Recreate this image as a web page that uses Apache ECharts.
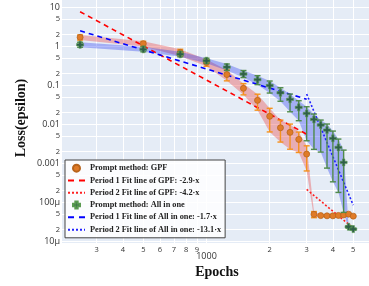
<!DOCTYPE html>
<html><head><meta charset="utf-8">
<script src="https://cdn.jsdelivr.net/npm/echarts@6/dist/echarts.min.js"></script>
<style>html,body{margin:0;padding:0;background:#fff}#c{width:369px;height:286px}</style>
</head><body><div id="c"></div>
<script>
// ---- data ----
const epochs = [250,500,750,1000,1250,1500,1750,2000,2250,2500,2750,3000,3250,3500,3750,4000,4250,4500,4750,5000];
const gpfLoss = [1.70,1.17,0.70,0.384,0.189,0.0838,0.0412,0.0161,0.00818,0.00624,0.00412,0.00173,4.95e-5,4.59e-5,4.53e-5,4.53e-5,4.64e-5,4.78e-5,5.01e-5,4.45e-5];
const gpfErr = [0.255,0.176,0.14,0.077,0.0586,0.0268,0.0181,0.0097,0.00466,0.00393,0.00222,0.00109,8.9e-6,2.3e-6,2.3e-6,2.3e-6,2.3e-6,2.4e-6,2.5e-6,2.2e-6];
const aioLoss = [1.10,0.838,0.624,0.428,0.294,0.195,0.140,0.0988,0.0646,0.0438,0.0273,0.0191,0.0134,0.0096,0.00714,0.00438,0.00257,0.00106,2.37e-5,2.07e-5];
const aioUpper = [1.27,0.971,0.723,0.495,0.352,0.240,0.177,0.129,0.0868,0.0598,0.0403,0.0283,0.0184,0.0129,0.0102,0.00673,0.0042,0.00219,2.54e-5,2.19e-5];
const aioLower = [0.948,0.723,0.538,0.369,0.240,0.158,0.104,0.0635,0.0391,0.0210,0.0124,0.0038,0.00229,0.00195,0.000757,0.000337,0.00018,5.54e-5,2.19e-5,1.95e-5];
const fitGpfP1X = [250,3000], fitGpfP1Y = [7.7,0.0056];
const fitGpfP2X = [3000,5000], fitGpfP2Y = [2.15e-4,2.2e-5];
const fitAioP1X = [250,3000], fitAioP1Y = [2.5,0.044];
const fitAioP2X = [3000,5000], fitAioP2Y = [0.06,8.5e-5];
const seriesNames = ['Prompt method: GPF','Period 1 Fit line of GPF: -2.9·x','Period 2 Fit line of GPF: -4.2·x','Prompt method: All in one','Period 1 Fit line of All in one: -1.7·x','Period 2 Fit line of All in one: -13.1·x'];
const yTicks = [10,5,2,1,0.5,0.2,0.1,0.05,0.02,0.01,0.005,0.002,0.001,5e-4,2e-4,1e-4,5e-5,2e-5,1e-5];
const yTickLabels = ['10','5','2','1','5','2','0.1','5','2','0.01','5','2','0.001','5','2','100μ','5','2','10μ'];
const yMajor = [1,0,0,1,0,0,1,0,0,1,0,0,1,0,0,1,0,0,1];
const xTicks = [300,400,500,600,700,800,900,1000,2000,3000,4000,5000];
const xTickLabels = ['3','4','5','6','7','8','9','1000','2','3','4','5'];
const xMajor = [0,0,0,0,0,0,0,1,0,0,0,0];

// ---- chart ----
const L = Math.log10;
const chart = echarts.init(document.getElementById('c'), null, {renderer:'canvas'});
const yT = yTicks.map(L), xT = xTicks.map(L);
function findIdx(arr, v){ return arr.findIndex(t => Math.abs(t - v) < 1e-6); }
const plus = 'path://M3.3,0H6.7V3.3H10V6.7H6.7V10H3.3V6.7H0V3.3H3.3Z';

function band(upper, lower, color){
  return {type:'custom', silent:true, z:1, data:[[3,0]],
    renderItem:(params, api)=>{
      const pts=[];
      for(let i=0;i<epochs.length;i++) pts.push(api.coord([L(epochs[i]), L(upper[i])]));
      for(let i=epochs.length-1;i>=0;i--) pts.push(api.coord([L(epochs[i]), L(lower[i])]));
      return {type:'polygon', shape:{points:pts}, style:{fill:color}};
    }};
}
function errBars(lo, hi, color, z){
  return {type:'custom', silent:true, z:z,
    data: epochs.map((e,i)=>[L(e), L(lo[i]), L(hi[i])]),
    encode:{x:0, y:[1,2]},
    renderItem:(params, api)=>{
      const x=api.value(0);
      const p1=api.coord([x, api.value(1)]), p2=api.coord([x, api.value(2)]);
      const w=3, st={stroke:color, lineWidth:1.4};
      return {type:'group', children:[
        {type:'line', shape:{x1:p1[0],y1:p1[1],x2:p2[0],y2:p2[1]}, style:st},
        {type:'line', shape:{x1:p1[0]-w,y1:p1[1],x2:p1[0]+w,y2:p1[1]}, style:st},
        {type:'line', shape:{x1:p2[0]-w,y1:p2[1],x2:p2[0]+w,y2:p2[1]}, style:st}
      ]};
    }};
}
function fitLine(name, xs, ys, color, dash, w){
  return {name, type:'line', symbol:'none', z:3, silent:true,
    data: xs.map((x,i)=>[L(x), L(ys[i])]),
    lineStyle:{color, type:dash, width:w}, itemStyle:{color}};
}
const gpfLo = gpfLoss.map((v,i)=>v-gpfErr[i]);
const gpfHi = gpfLoss.map((v,i)=>v+gpfErr[i]);
const hideSym = {color:'rgba(0,0,0,0)', borderWidth:0, opacity:0};

const option = {
  animation:false,
  backgroundColor:'#fff',
  grid:{left:62, right:0, top:0, bottom:43, show:true, backgroundColor:'#E5ECF6', borderWidth:0},
  xAxis:{type:'value', min:L(205), max:3.774,
    axisLine:{show:false}, axisTick:{show:false, customValues:xT},
    splitLine:{show:true, lineStyle:{color:'#fff', width:1}},
    axisLabel:{customValues:xT, margin:3, color:'#333', fontFamily:'Open Sans',
      formatter:(v)=>{const i=findIdx(xT,v); if(i<0) return ''; return xMajor[i]?'{b|'+xTickLabels[i]+'}':'{s|'+xTickLabels[i]+'}';},
      rich:{s:{fontSize:7.5, color:'#333', fontFamily:'Open Sans'}, b:{fontSize:9, color:'#333', fontFamily:'Open Sans', padding:[6,0,0,0]}}}
  },
  yAxis:{type:'value', min:-5.04, max:1.187,
    axisLine:{show:false}, axisTick:{show:false, customValues:yT},
    splitLine:{show:true, lineStyle:{color:'#fff', width:1}},
    axisLabel:{customValues:yT, margin:2, color:'#333', fontFamily:'Open Sans',
      formatter:(v)=>{const i=findIdx(yT,v); if(i<0) return ''; return yMajor[i]?'{b|'+yTickLabels[i]+'}':'{s|'+yTickLabels[i]+'}';},
      rich:{s:{fontSize:7.5, color:'#333', fontFamily:'Open Sans'}, b:{fontSize:9, color:'#333', fontFamily:'Open Sans'}}}
  },
  legend:{orient:'vertical', left:65, top:160, itemWidth:17, itemHeight:7, itemGap:2,
    padding:[3,4,3,2], borderColor:'#444', borderWidth:1, backgroundColor:'rgba(255,255,255,0.85)',
    textStyle:{fontFamily:'Liberation Serif', fontWeight:'bold', fontSize:8.3, lineHeight:10.3, color:'#222'},
    data:[
      {name:seriesNames[0]},
      {name:seriesNames[1], itemStyle:hideSym, lineStyle:{type:[6,5]}},
      {name:seriesNames[2], itemStyle:hideSym},
      {name:seriesNames[3]},
      {name:seriesNames[4], itemStyle:hideSym, lineStyle:{type:[6,5]}},
      {name:seriesNames[5], itemStyle:hideSym}
    ]},
  graphic:[
    {type:'text', x:21, y:118, rotation:Math.PI/2, style:{text:'Loss(epsilon)', font:'bold 14px "Liberation Serif"', fill:'#111', align:'center', verticalAlign:'middle'}},
    {type:'text', x:217, y:272, style:{text:'Epochs', font:'bold 14px "Liberation Serif"', fill:'#111', align:'center', verticalAlign:'middle'}}
  ],
  series:[
    band(gpfHi, gpfLo, 'rgba(235,70,70,0.38)'),
    band(aioUpper, aioLower, 'rgba(40,60,240,0.35)'),
    fitLine(seriesNames[1], fitGpfP1X, fitGpfP1Y, '#ff0000', [5,4], 1.6),
    fitLine(seriesNames[2], fitGpfP2X, fitGpfP2Y, '#ff2020', [2,2], 1.6),
    fitLine(seriesNames[4], fitAioP1X, fitAioP1Y, '#0000ff', [5,4], 1.6),
    fitLine(seriesNames[5], fitAioP2X, fitAioP2Y, '#2020ff', [2,2], 1.6),
    errBars(gpfLo, gpfHi, '#F5921E', 4),
    {name:seriesNames[0], type:'scatter', z:5, symbol:'circle', symbolSize:6,
      data: epochs.map((e,i)=>[L(e), L(gpfLoss[i])]),
      itemStyle:{color:'#E07B28', borderColor:'#B8641C', borderWidth:0.8, opacity:1}},
    errBars(aioLower, aioUpper, '#4F8A4A', 6),
    {name:seriesNames[3], type:'scatter', z:7, symbol:plus, symbolSize:7,
      data: epochs.map((e,i)=>[L(e), L(aioLoss[i])]),
      itemStyle:{color:'#2F5E4A', borderColor:'#5A9A50', borderWidth:0.6, opacity:1}}
  ]
};
chart.setOption(option);
</script></body></html>
